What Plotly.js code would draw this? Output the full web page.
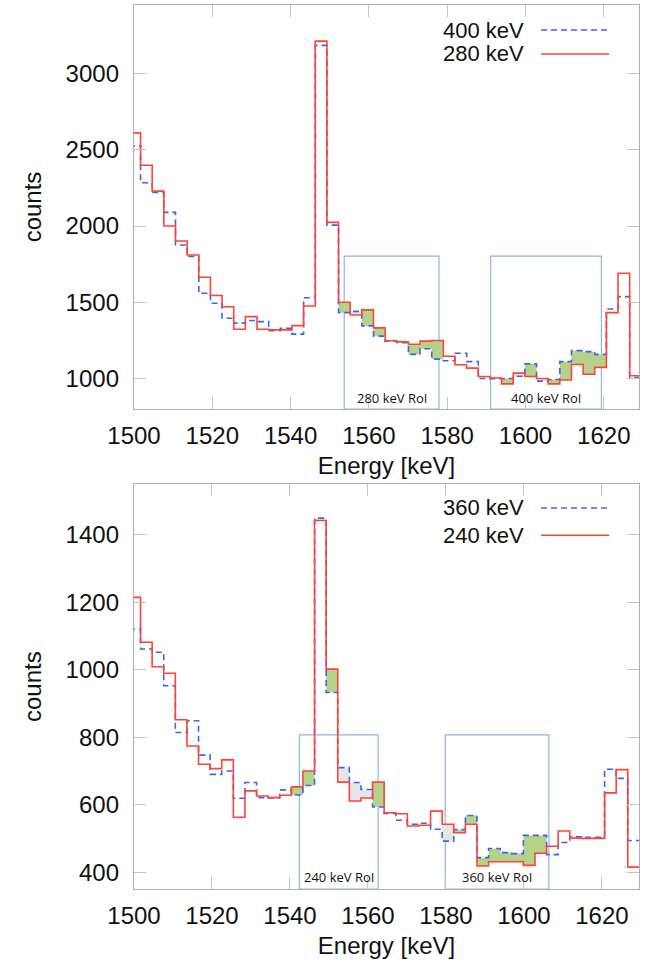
<!DOCTYPE html>
<html>
<head>
<meta charset="utf-8">
<script src="https://cdn.plot.ly/plotly-3.0.1.min.js"></script>
<style>html,body{margin:0;padding:0;background:#fff;}#chart{width:649px;height:966px;}</style>
</head>
<body>
<div id="chart"></div>
<script>
// ---- data ----
const binStart = 1498.7;   // keV, lower edge of first bin
const binWidth = 2.975;    // keV
const tickLabels = [1500, 1520, 1540, 1560, 1580, 1600, 1620];

// top panel
const top400 = [2526,2284,2220,2090,1876,1800,1559,1494,1395,1363,1380,1373,1313,1330,1291,1530,3185,2006,1432,1440,1345,1278,1245,1235,1158,1195,1127,1116,1166,1111,1000,998,1000,1015,1096,983,993,1111,1183,1176,1158,1456,1537,1007];
const top280 = [2611,2399,2229,2000,1902,1810,1664,1544,1471,1323,1406,1323,1319,1319,1347,1476,3213,2024,1500,1417,1450,1332,1248,1240,1225,1245,1249,1146,1090,1068,1013,1003,965,1035,1013,1000,965,990,1092,1028,1073,1432,1690,1018];
// bottom panel
const bot360 = [1121,1062,1052,953,814,849,747,690,700,619,666,621,620,644,629,657,1450,933,710,666,645,593,574,554,542,545,527,492,526,568,443,470,458,455,509,509,452,488,505,503,503,705,678,494];
const bot240 = [1215,1082,1009,990,852,774,720,707,733,563,641,626,621,628,653,700,1443,1002,667,611,620,667,576,573,537,539,581,542,517,542,418,431,431,431,420,456,477,522,501,500,500,635,704,415];

// regions of interest
const roiLabels  = ["280 keV RoI", "400 keV RoI", "240 keV RoI", "360 keV RoI"];
const roiPanel   = [0, 0, 1, 1];
const roiLo      = [1553.7, 1591.1, 1542.4, 1579.8];
const roiHi      = [1577.9, 1619.4, 1562.6, 1606.4];
const roiTop     = [1803, 1803, 807, 807];
const roiLabelY  = [873, 873, 385, 385];
const roiFirstBin= [18, 31, 14, 27];
const roiLastBin = [26, 40, 21, 35];
const roiSeries  = ["red", "blue", "red", "blue"]; // series whose excess is shaded green

const legendNames = [["400 keV", "280 keV"], ["360 keV", "240 keV"]];

// ---- build ----
const nBins = top400.length;
const edges = [];
for (let k = 0; k <= nBins; k++) edges.push(binStart + binWidth * k);

function stepY(v) { return v.concat([v[v.length - 1]]); }

const panels = [
  {blue: top400, red: top280, xa: 'x', ya: 'y'},
  {blue: bot360, red: bot240, xa: 'x2', ya: 'y2'}
];

const traces = [];
// shaded differences
roiLabels.forEach((lab, i) => {
  const p = panels[roiPanel[i]];
  const gx = [], gy = [], wx = [], wy = [];
  for (let k = roiFirstBin[i]; k <= roiLastBin[i]; k++) {
    const r = p.red[k], b = p.blue[k];
    const mine = roiSeries[i] === 'red' ? r : b;
    const other = roiSeries[i] === 'red' ? b : r;
    const tx = mine >= other ? gx : wx;
    const ty = mine >= other ? gy : wy;
    tx.push(edges[k], edges[k+1], edges[k+1], edges[k], edges[k], null);
    ty.push(r, r, b, b, r, null);
  }
  traces.push({x: gx, y: gy, xaxis: p.xa, yaxis: p.ya, mode: 'lines', fill: 'toself',
    fillcolor: '#b4d28a', line: {width: 0}, hoverinfo: 'skip', showlegend: false});
  traces.push({x: wx, y: wy, xaxis: p.xa, yaxis: p.ya, mode: 'lines', fill: 'toself',
    fillcolor: '#e6e6e6', line: {width: 0}, hoverinfo: 'skip', showlegend: false});
});

panels.forEach((p, i) => {
  traces.push({x: edges, y: stepY(p.blue), xaxis: p.xa, yaxis: p.ya, mode: 'lines',
    name: legendNames[i][0], line: {shape: 'hv', color: '#3d63f2', width: 1.6, dash: '6px,4px'}, showlegend: false});
  traces.push({x: edges, y: stepY(p.red), xaxis: p.xa, yaxis: p.ya, mode: 'lines',
    name: legendNames[i][1], line: {shape: 'hv', color: '#ff4436', width: 1.6}, showlegend: false});
});

const font = {family: '"Liberation Sans", Arial, sans-serif', size: 24, color: '#111'};
const legendFont = {family: '"Liberation Sans", Arial, sans-serif', size: 22, color: '#111'};

const axisCommon = {
  showline: true, linecolor: '#b0b0b0', linewidth: 1.2, mirror: 'ticks',
  ticks: 'inside', ticklen: 12, tickcolor: '#c4c4c4', tickwidth: 1,
  showgrid: false, zeroline: false, tickfont: font
};

const shapes = [];
const annotations = [];
roiLabels.forEach((lab, i) => {
  const xa = roiPanel[i] === 0 ? 'x' : 'x2';
  const ya = roiPanel[i] === 0 ? 'y' : 'y2';
  const yMin = roiPanel[i] === 0 ? 800 : 350;
  shapes.push({type: 'rect', xref: xa, yref: ya, x0: roiLo[i], x1: roiHi[i], y0: yMin, y1: roiTop[i],
    line: {color: '#8fb5e3', width: 1.2}, layer: 'below'});
  annotations.push({xref: xa, yref: ya, x: (roiLo[i] + roiHi[i]) / 2, y: roiLabelY[i], text: lab,
    showarrow: false, font: {family: '"Open Sans", sans-serif', size: 13, color: '#111'}});
});

// legend (text left of sample, gnuplot style)
const legendY = [[0.9717, 0.9446], [0.4310, 0.4001]];
const legendDash = ['6px,4px', 'solid'];
const legendColor = ['#3d63f2', '#ff4436'];
legendNames.forEach((names, pi) => {
  names.forEach((nm, j) => {
    annotations.push({xref: 'paper', yref: 'paper', x: 0.777, y: legendY[pi][j], text: nm,
      xanchor: 'right', yanchor: 'middle', showarrow: false, font: legendFont});
    shapes.push({type: 'line', xref: 'paper', yref: 'paper', x0: 0.806, x1: 0.941,
      y0: legendY[pi][j], y1: legendY[pi][j], line: {color: legendColor[j], width: 1.6, dash: legendDash[j]}});
  });
});

const layout = {
  width: 649, height: 966,
  margin: {l: 134, r: 10, t: 5, b: 77},
  paper_bgcolor: '#fff', plot_bgcolor: '#fff',
  font: font,
  xaxis: Object.assign({}, axisCommon, {domain: [0, 1], anchor: 'y', range: [1500, 1629], tickvals: tickLabels,
    ticklabelstandoff: 5, title: {text: 'Energy [keV]', font: font, standoff: 9}}),
  yaxis: Object.assign({}, axisCommon, {domain: [0.543, 1], anchor: 'x', range: [800, 3450],
    ticklabelstandoff: 9, tickvals: [1000, 1500, 2000, 2500, 3000], title: {text: 'counts', font: font, standoff: 17}}),
  xaxis2: Object.assign({}, axisCommon, {domain: [0, 1], anchor: 'y2', range: [1500, 1629.5], tickvals: tickLabels,
    ticklabelstandoff: 5, title: {text: 'Energy [keV]', font: font, standoff: 9}}),
  yaxis2: Object.assign({}, axisCommon, {domain: [0, 0.4577], anchor: 'x2', range: [350, 1550],
    ticklabelstandoff: 9, tickvals: [400, 600, 800, 1000, 1200, 1400], title: {text: 'counts', font: font, standoff: 17}}),
  shapes: shapes,
  annotations: annotations
};

Plotly.newPlot('chart', traces, layout, {staticPlot: true, displayModeBar: false});
</script>
</body>
</html>
